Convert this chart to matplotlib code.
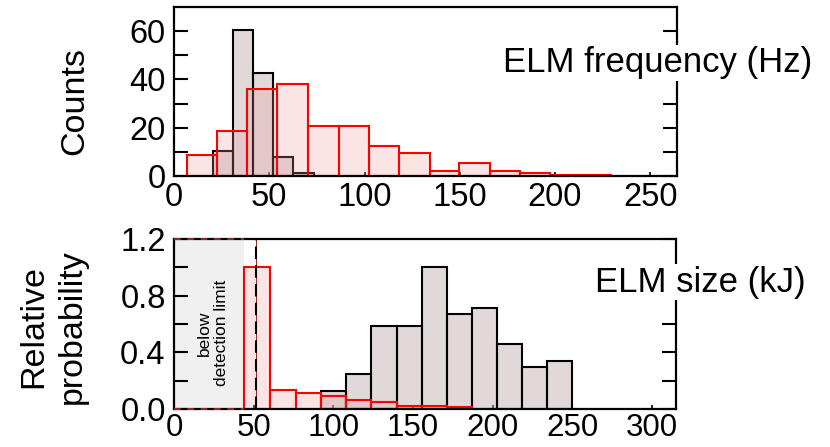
import matplotlib
matplotlib.use("Agg")
import matplotlib.pyplot as plt
import numpy as np

plt.rcParams['font.family'] = ['Liberation Sans', 'DejaVu Sans']

# ---- Top panel: ELM frequency (Hz) ----
freq_red_edges = [6.6, 22.4, 38.5, 54.3, 70.4, 86.5, 102.2, 118.3, 134.1, 149.5, 165.6, 181.7, 197.5, 213.2, 229.4]
freq_red_counts = [8.5, 18.6, 35.9, 38.0, 20.7, 20.7, 12.5, 9.4, 2.2, 5.5, 2.2, 1.4, 0.6, 0.6]
freq_gray_edges = [20.3, 30.8, 41.7, 52.2, 62.7, 73.5]
freq_gray_counts = [10.5, 60.6, 42.8, 7.7, 1.4]

# ---- Bottom panel: ELM size (kJ) ----
size_red_edges = [43.9, 60.3, 76.6, 92.1, 108.0, 123.9, 139.8, 155.7, 171.2, 187.1]
size_red_prob = [1.0, 0.137, 0.113, 0.09, 0.061, 0.049, 0.024, 0.024, 0.014]
size_gray_edges = [92.1, 108.0, 123.9, 139.8, 155.7, 171.2, 187.1, 202.6, 218.6, 234.0, 249.9]
size_gray_prob = [0.125, 0.25, 0.589, 0.589, 1.0, 0.671, 0.714, 0.462, 0.30, 0.337]
detection_limit = 43.9
dash_x = 51.3

top_xticks = [0, 50, 100, 150, 200, 250]
top_yticks = [0, 10, 20, 30, 40, 50, 60]
top_ylabels = ['0', '', '20', '', '40', '', '60']
bot_xticks = [0, 50, 100, 150, 200, 250, 300]
bot_yticks = [0.0, 0.2, 0.4, 0.6, 0.8, 1.0, 1.2]
bot_ylabels = ['0.0', '', '0.4', '', '0.8', '', '1.2']

W, H = 830, 447
fig = plt.figure(figsize=(W / 100, H / 100), dpi=100)

ax1 = fig.add_axes([174 / W, 1 - 176 / H, 503 / W, 169 / H])
ax2 = fig.add_axes([174 / W, 1 - 409 / H, 502 / W, 170 / H])

gray_face = (190 / 255, 170 / 255, 175 / 255, 0.45)
red_face = (240 / 255, 150 / 255, 150 / 255, 0.25)
FS = 23.5
FS_TXT = 25
FS_LAB = 24.5


def draw_hist(ax, edges, vals, face, edge, lw, z):
    e = np.asarray(edges)
    ax.bar(e[:-1], vals, width=np.diff(e), align='edge', facecolor=face,
           edgecolor=edge, linewidth=lw, zorder=z)


def style(ax, xlim, ylim, xticks, yticks, ylabels, xpad, xfs):
    ax.set_xlim(*xlim)
    ax.set_ylim(*ylim)
    ax.set_xticks(xticks)
    ax.set_xticklabels([str(t) for t in xticks])
    ax.set_yticks(yticks)
    ax.set_yticklabels(ylabels)
    ax.tick_params(axis='y', direction='in', length=10, width=1.5,
                   right=True, labelsize=FS, pad=6)
    ax.tick_params(axis='x', direction='in', length=3, width=1.2,
                   labelsize=xfs, pad=xpad)
    for s in ax.spines.values():
        s.set_linewidth(1.6)
        s.set_zorder(10)


draw_hist(ax1, freq_gray_edges, freq_gray_counts, gray_face, 'black', 1.5, 2)
draw_hist(ax1, freq_red_edges, freq_red_counts, red_face, 'red', 1.5, 3)
style(ax1, (0, 264), (0, 70), top_xticks, top_yticks, top_ylabels, 4, FS)
ax1.text(0.962, 0.67, 'ELM frequency (Hz)', transform=ax1.transAxes,
         fontsize=FS_TXT, ha='center', va='center', zorder=20, clip_on=False,
         bbox=dict(facecolor='white', edgecolor='none', pad=1))

# bottom panel
ax2.axvspan(0, detection_limit, color=(240 / 255, 240 / 255, 240 / 255), zorder=0, lw=0)
ax2.plot([0, detection_limit], [1.2, 1.2], color='#b03030', lw=1.2, ls=(0, (4, 4)), zorder=11, clip_on=False)
ax2.plot([0, detection_limit], [0, 0], color='#b03030', lw=1.2, ls=(0, (4, 4)), zorder=11, clip_on=False)
draw_hist(ax2, size_gray_edges, size_gray_prob, gray_face, 'black', 1.5, 2)
draw_hist(ax2, size_red_edges, size_red_prob, red_face, 'red', 1.5, 3)
ax2.axvline(dash_x, color='#a02020', lw=0.7, zorder=4)
ax2.axvline(dash_x, color='black', lw=1.5, ls=(0, (6, 3)), zorder=5)
ax2.text(24.5, 0.537, 'below\ndetection limit', rotation=90, fontsize=12.5,
         ha='center', va='center', multialignment='center', zorder=6)
style(ax2, (0, 315), (0, 1.2), bot_xticks, bot_yticks, bot_ylabels, 3, 22.5)
ax2.text(1.048, 0.745, 'ELM size (kJ)', transform=ax2.transAxes,
         fontsize=FS_TXT, ha='center', va='center', zorder=20, clip_on=False,
         bbox=dict(facecolor='white', edgecolor='none', pad=1))

fig.text(75 / W, 1 - 101 / H, 'Counts', rotation=90, fontsize=FS_LAB,
         ha='center', va='center')
fig.text(53 / W, 1 - 327 / H, 'Relative\nprobability', rotation=90, fontsize=FS_LAB,
         ha='center', va='center', multialignment='center', linespacing=1.3)

fig.savefig('out.png', dpi=100)
